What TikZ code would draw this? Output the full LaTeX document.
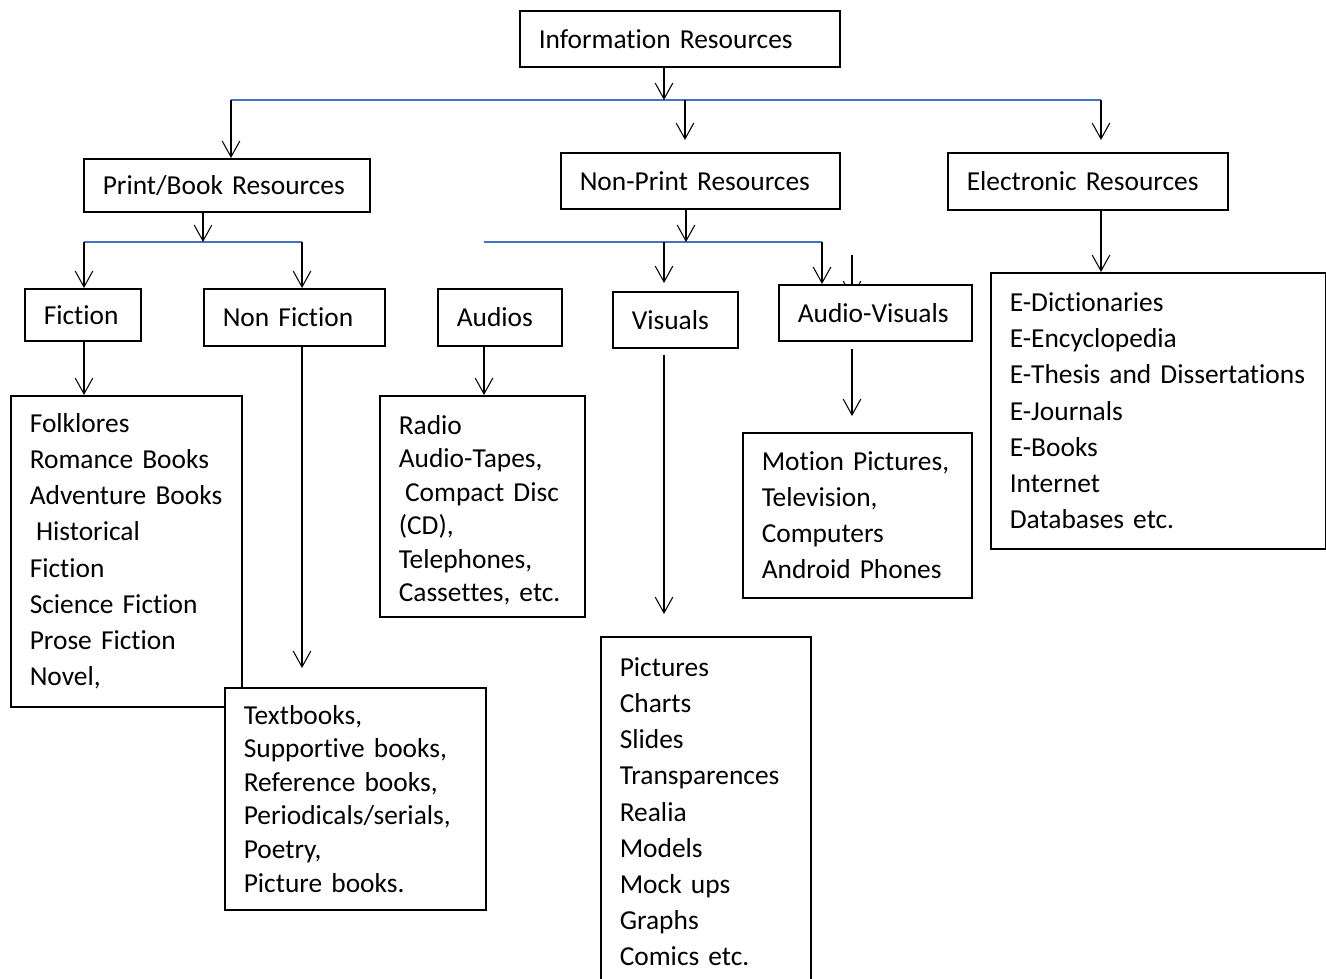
\documentclass[tikz,border=0pt]{standalone}
\usepackage{fontspec}
\setmainfont[Ligatures=NoCommon]{Carlito}
\usetikzlibrary{arrows.meta}
\definecolor{barblue}{RGB}{68,114,196}
\hyphenpenalty=10000

\begin{document}
\begin{tikzpicture}[
        x=0.02cm, y=-0.02cm,
        box/.style={draw, fill=white, line width=0.9pt, anchor=north west, inner xsep=0.38cm, inner ysep=0pt, align=left, font=\fontsize{15.6}{20.6}\selectfont},
        tight/.style={font=\fontsize{15.6}{19.1}\selectfont},
        link/.style={line width=0.6pt, -{Straight Barb[length=9pt,width=10pt]}},
        bar/.style={line width=0.7pt, barblue}
    ]
    \useasboundingbox (0,0) rectangle (1326,979);
    \coordinate (avtop) at (852,255);
    \coordinate (avtip) at (852,298);
    \draw[link] (avtop) -- (avtip);

    \node[box, text width=5.64cm, minimum height=1.12cm] (info) at (519,10) {Information Resources};
    \node[box, text width=4.96cm, minimum height=1.06cm] (print) at (83,158) {Print/Book Resources};
    \node[box, text width=4.82cm, minimum height=1.12cm] (nonprint) at (560,152) {Non-Print Resources};
    \node[box, text width=4.84cm, minimum height=1.14cm] (electronic) at (947,152) {Electronic Resources};
    \node[box, text width=1.56cm, minimum height=1.04cm] (fiction) at (24,288) {Fiction};
    \node[box, text width=2.86cm, minimum height=1.14cm] (nonfiction) at (203,288) {Non Fiction};
    \node[box, text width=1.72cm, minimum height=1.14cm] (audios) at (437,288) {Audios};
    \node[box, text width=1.74cm, minimum height=1.12cm] (visuals) at (612,291) {Visuals};
    \node[box, text width=3.1cm, minimum height=1.12cm] (audiovisuals) at (778,284) {Audio-Visuals};

    \node[box, text width=3.86cm, minimum height=6.22cm] (fictionlist) at (10,395)
        {Folklores\\Romance Books\\Adventure~Books\\\hspace*{0.23em}Historical\\Fiction\\Science Fiction\\Prose Fiction\\Novel,};
    \node[box, tight, text width=4.46cm, minimum height=4.44cm] (nonfictionlist) at (224,687)
        {Textbooks,\\Supportive books,\\Reference books,\\Periodicals/serials,\\Poetry,\\Picture books.};
    \node[box, tight, text width=3.34cm, minimum height=4.42cm] (audioslist) at (379,395)
        {\rule{0pt}{0.54cm}Radio\\Audio-Tapes,\\\hspace*{0.23em}Compact Disc\\(CD),\\Telephones,\\Cassettes, etc.};
    \node[box, text width=3.44cm, minimum height=7.0cm] (visualslist) at (600,636)
        {Pictures\\Charts\\Slides\\Transparences\\Realia\\Models\\Mock ups\\Graphs\\Comics etc.};
    \node[box, text width=3.82cm, minimum height=3.3cm] (audiovisualslist) at (742,432)
        {Motion Pictures,\\Television,\\Computers\\Android Phones};
    \node[box, text width=5.94cm, minimum height=5.52cm] (electroniclist) at (990,272)
        {E-Dictionaries\\E-Encyclopedia\\E-Thesis~and~Dissertations\\E-Journals\\E-Books\\Internet\\Databases etc.};

    \coordinate (topin) at (664,100);
    \coordinate (topleft) at (231,100);
    \coordinate (topmid) at (685,100);
    \coordinate (topright) at (1101,100);
    \draw[bar] (topleft) -- (topright);
    \draw[link] (info.south -| topin) -- (topin);
    \draw[link] (topleft) -- (topleft |- print.north);
    \draw[link, shorten >=0.24cm] (topmid) -- (topmid |- nonprint.north);
    \draw[link, shorten >=0.24cm] (topright) -- (topright |- electronic.north);

    \coordinate (printin) at (203,242);
    \coordinate (printleft) at (84,242);
    \coordinate (printright) at (302,242);
    \draw[bar] (printleft) -- (printright);
    \draw[link] (print.south -| printin) -- (printin);
    \draw[link] (printleft) -- (printleft |- fiction.north);
    \draw[link] (printright) -- (printright |- nonfiction.north);
    \draw[link] (printleft |- fiction.south) -- (printleft |- fictionlist.north);
    \draw[link, shorten >=0.38cm] (printright |- nonfiction.south) -- (printright |- nonfictionlist.north);

    \coordinate (nonprintin) at (686,242);
    \coordinate (nonprintleft) at (484,242);
    \coordinate (nonprintmid) at (664,242);
    \coordinate (nonprintright) at (822,242);
    \draw[bar] (nonprintleft) -- (nonprintright);
    \draw[link] (nonprint.south -| nonprintin) -- (nonprintin);
    \draw[link, shorten >=0.16cm] (nonprintmid) -- (nonprintmid |- visuals.north);
    \draw[link] (nonprintright) -- (nonprintright |- audiovisuals.north);
    \draw[link] (nonprintleft |- audios.south) -- (nonprintleft |- audioslist.north);
    \draw[link, shorten <=0.12cm, shorten >=0.44cm] (nonprintmid |- visuals.south) -- (nonprintmid |- visualslist.north);
    \draw[link, shorten <=0.14cm, shorten >=0.32cm] (avtop |- audiovisuals.south) -- (avtop |- audiovisualslist.north);
    \draw[link] (topright |- electronic.south) -- (topright |- electroniclist.north);
\end{tikzpicture}
\end{document}
